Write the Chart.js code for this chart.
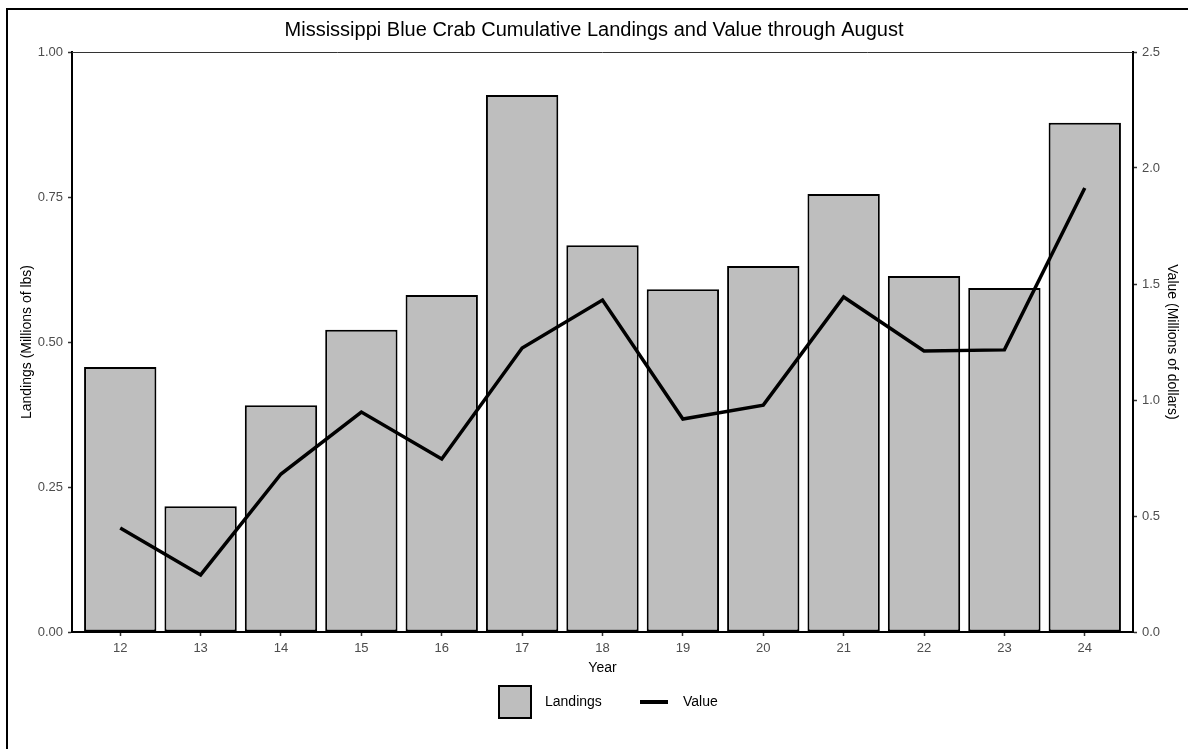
<!DOCTYPE html>
<html>
<head>
<meta charset="utf-8">
<script src="https://cdn.jsdelivr.net/npm/chart.js@4.4.1/dist/chart.umd.min.js"></script>
<style>
  html, body { margin: 0; padding: 0; background: #fff; }
  #wrap { position: relative; width: 1188px; height: 749px; overflow: hidden; }
  #frame { position: absolute; left: 6px; top: 8px; width: 1200px; height: 800px; border: 2px solid #000; box-sizing: border-box; }
  canvas { position: absolute; left: 0; top: 0; }
</style>
</head>
<body>
<div id="wrap">
  <div id="frame"></div>
  <canvas id="crabChart" width="1188" height="749"></canvas>
</div>
<script>
        const years = [12, 13, 14, 15, 16, 17, 18, 19, 20, 21, 22, 23, 24];
        const landings = [0.457, 0.217, 0.391, 0.521, 0.581, 0.926, 0.667, 0.591, 0.631, 0.755, 0.614, 0.593, 0.878];
        const value = [0.448, 0.246, 0.681, 0.948, 0.746, 1.224, 1.431, 0.918, 0.978, 1.444, 1.211, 1.216, 1.914];
        const leftTicks = [0, 0.25, 0.5, 0.75, 1.0];
        const rightTicks = [0, 0.5, 1.0, 1.5, 2.0, 2.5];

        const tickColor = '#4d4d4d';
        const fontFamily = '"Liberation Sans", Arial, sans-serif';

        // top panel line + legend under the x axis
        const extras = {
            id: 'extras',
            afterDraw(chart) {
                const ctx = chart.ctx;
                const area = chart.chartArea;
                ctx.save();
                ctx.strokeStyle = '#333';
                ctx.lineWidth = 1;
                ctx.beginPath();
                ctx.moveTo(area.left, area.top + 0.5);
                ctx.lineTo(area.right, area.top + 0.5);
                ctx.stroke();

                const cy = 702;
                ctx.fillStyle = '#bebebe';
                ctx.fillRect(499, 686, 32, 32);
                ctx.strokeStyle = '#000';
                ctx.lineWidth = 2;
                ctx.strokeRect(499, 686, 32, 32);
                ctx.font = '14px ' + fontFamily;
                ctx.fillStyle = '#000';
                ctx.textBaseline = 'middle';
                ctx.fillText('Landings', 545, cy);
                ctx.lineWidth = 4;
                ctx.beginPath();
                ctx.moveTo(640, cy);
                ctx.lineTo(668, cy);
                ctx.stroke();
                ctx.fillText('Value', 683, cy);
                ctx.restore();
            }
        };

        const ctx = document.getElementById('crabChart').getContext('2d');
        new Chart(ctx, {
            data: {
                datasets: [{
                    type: 'line',
                    label: 'Value',
                    data: years.map((y, i) => ({ x: y, y: value[i] })),
                    yAxisID: 'y1',
                    borderColor: '#000',
                    borderWidth: 3.5,
                    pointRadius: 0,
                    tension: 0,
                    order: 0
                }, {
                    type: 'bar',
                    label: 'Landings',
                    data: years.map((y, i) => ({ x: y, y: landings[i] })),
                    yAxisID: 'y',
                    backgroundColor: '#bebebe',
                    borderColor: '#000',
                    borderWidth: 2,
                    borderSkipped: false,
                    barPercentage: 0.9,
                    categoryPercentage: 1.0,
                    order: 1
                }]
            },
            options: {
                responsive: false,
                animation: false,
                layout: {
                    padding: { top: 0, right: 0, bottom: 67, left: 0 }
                },
                plugins: {
                    legend: { display: false },
                    tooltip: { enabled: false },
                    title: {
                        display: true,
                        text: 'Mississippi Blue Crab Cumulative Landings and Value through August',
                        color: '#000',
                        font: { family: fontFamily, size: 20, weight: 'normal' },
                        padding: { top: 18, bottom: 10 }
                    }
                },
                scales: {
                    x: {
                        type: 'linear',
                        min: 11.4,
                        max: 24.6,
                        offset: false,
                        afterBuildTicks: s => { s.ticks = years.map(v => ({ value: v })); },
                        afterFit: s => { s.height = 50; },
                        ticks: {
                            color: tickColor,
                            font: { family: fontFamily, size: 13 },
                            padding: 5,
                            maxRotation: 0
                        },
                        grid: { display: true, offset: false, drawOnChartArea: false, tickLength: 4, color: '#333', tickWidth: 1.5 },
                        border: { display: true, color: '#000', width: 2 },
                        title: {
                            display: true,
                            text: 'Year',
                            color: '#000',
                            font: { family: fontFamily, size: 14 },
                            padding: { top: 0, bottom: 5 }
                        }
                    },
                    y: {
                        position: 'left',
                        min: 0,
                        max: 1,
                        afterBuildTicks: s => { s.ticks = leftTicks.map(v => ({ value: v })); },
                        afterFit: s => { s.width = 72; },
                        ticks: {
                            color: tickColor,
                            font: { family: fontFamily, size: 13 },
                            padding: 5,
                            callback: v => Number(v).toFixed(2)
                        },
                        grid: { display: true, drawOnChartArea: false, tickLength: 4, color: '#333', tickWidth: 1.5 },
                        border: { display: true, color: '#000', width: 2 },
                        title: {
                            display: true,
                            text: 'Landings (Millions of lbs)',
                            color: '#000',
                            font: { family: fontFamily, size: 14 },
                            padding: { top: 19, bottom: 0 }
                        }
                    },
                    y1: {
                        position: 'right',
                        min: 0,
                        max: 2.5,
                        afterBuildTicks: s => { s.ticks = rightTicks.map(v => ({ value: v })); },
                        afterFit: s => { s.width = 55; },
                        ticks: {
                            color: tickColor,
                            font: { family: fontFamily, size: 13 },
                            padding: 5,
                            callback: v => Number(v).toFixed(1)
                        },
                        grid: { display: true, drawOnChartArea: false, tickLength: 4, color: '#333', tickWidth: 1.5 },
                        border: { display: true, color: '#000', width: 2 },
                        title: {
                            display: true,
                            text: 'Value (Millions of dollars)',
                            color: '#000',
                            font: { family: fontFamily, size: 14 },
                            padding: { top: 8, bottom: 0 }
                        }
                    }
                }
            },
            plugins: [extras]
        });
</script>
</body>
</html>
